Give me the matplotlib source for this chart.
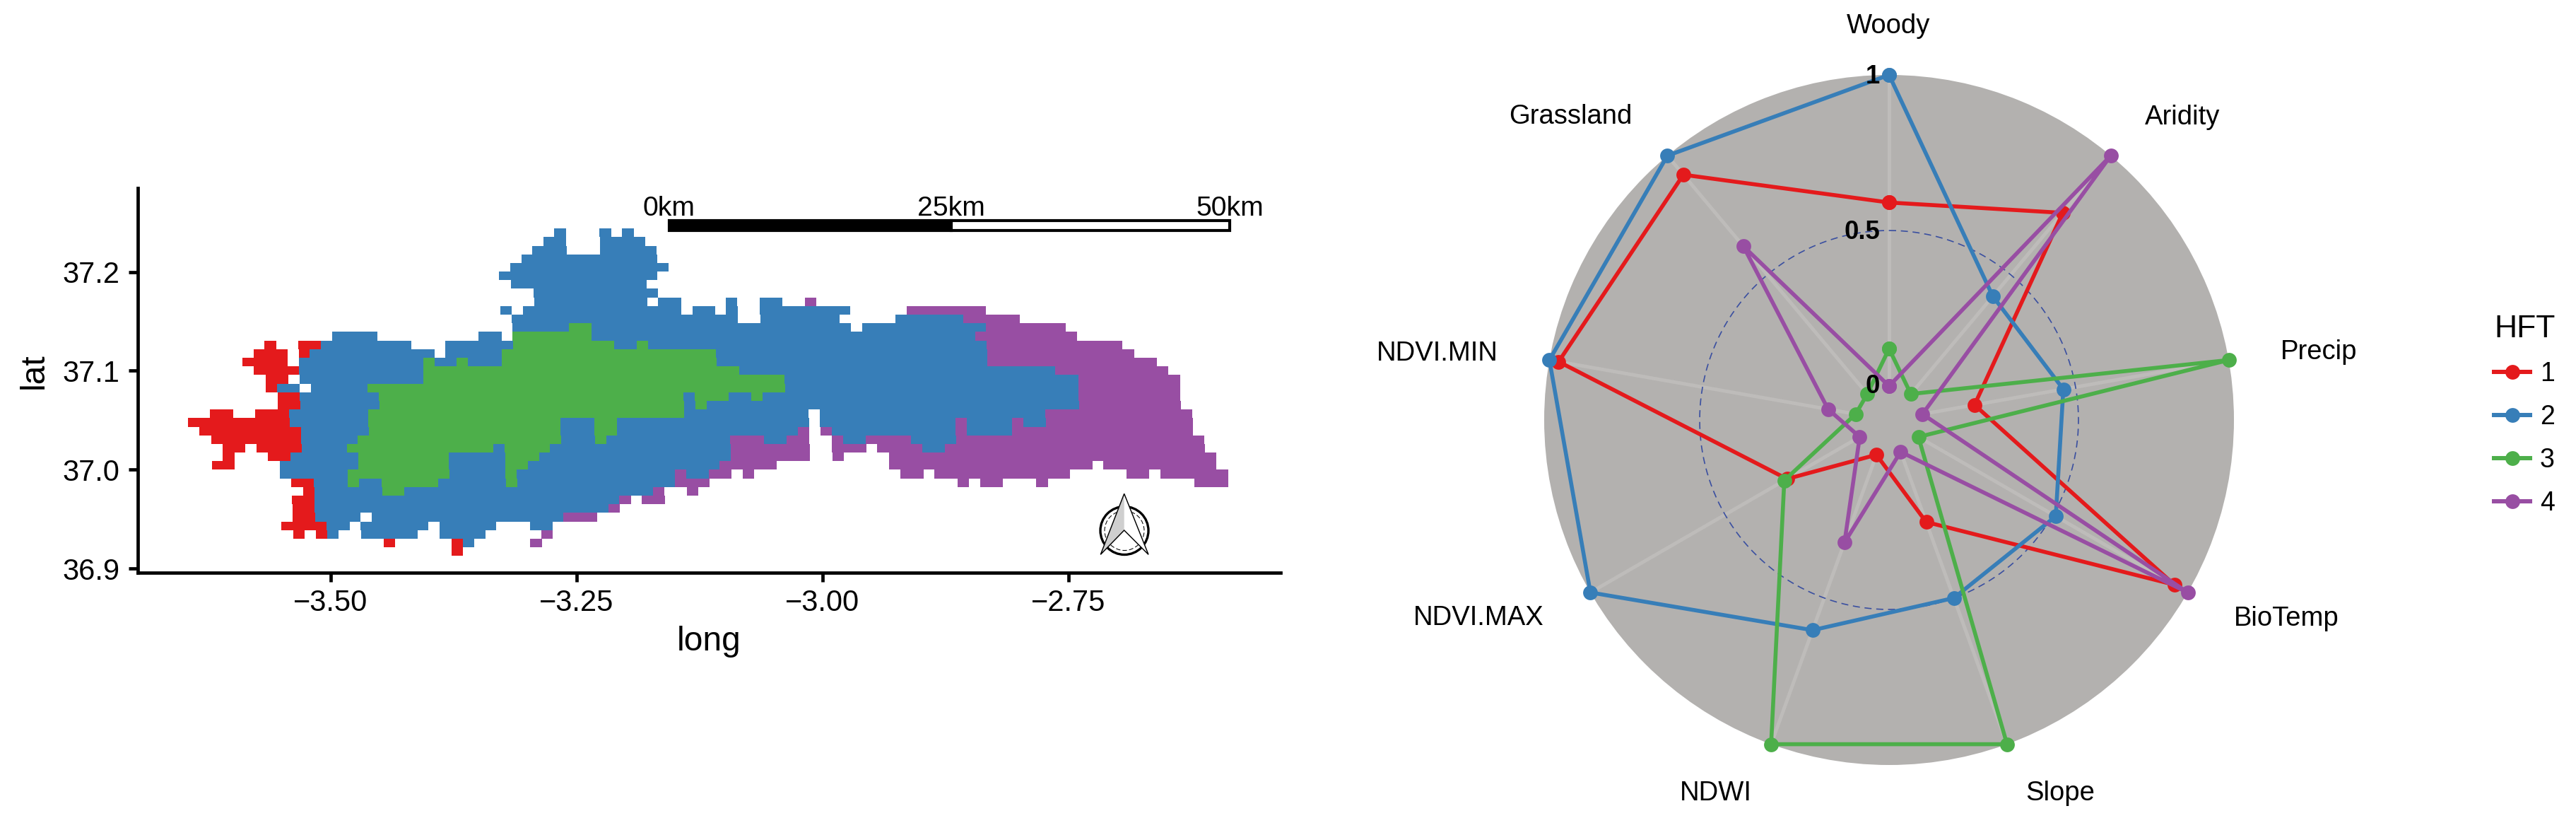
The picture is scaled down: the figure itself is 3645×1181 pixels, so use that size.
import numpy as np
import matplotlib
matplotlib.use('Agg')
import matplotlib.pyplot as plt
from matplotlib.colors import ListedColormap
from matplotlib.lines import Line2D
from matplotlib.patches import Rectangle, Polygon, Circle, Arc

plt.rcParams['font.family'] = ['Liberation Sans', 'DejaVu Sans']

W, H = 3645, 1181

# map raster: row -> (first column, end column) runs for each HFT class
hft1_cells = {
    13: [(7, 8), (10, 12)], 14: [(6, 9), (10, 11)], 15: [(5, 9)], 16: [(6, 10)], 17: [(7, 9)],
    18: [(7, 8)], 19: [(8, 10)], 20: [(8, 10)], 21: [(2, 4), (6, 9)], 22: [(0, 9)], 23: [(1, 10)],
    24: [(2, 10)], 25: [(3, 5), (6, 10)], 26: [(3, 4), (7, 9)], 27: [(2, 4)], 29: [(9, 11)],
    30: [(10, 11)], 31: [(9, 11)], 32: [(9, 11)], 33: [(9, 11)], 34: [(8, 12)],
    35: [(9, 10), (11, 12)], 36: [(17, 18), (23, 24)], 37: [(23, 24)],
}
hft2_cells = {
    0: [(33, 34), (37, 38), (39, 40)], 1: [(32, 34), (37, 41)], 2: [(31, 34), (37, 42)],
    3: [(30, 42)], 4: [(29, 43)], 5: [(28, 42)], 6: [(29, 41)], 7: [(31, 42)],
    8: [(31, 41), (42, 44), (48, 49), (51, 53)],
    9: [(28, 29), (30, 44), (45, 47), (48, 49), (51, 59)],
    10: [(29, 49), (51, 58), (63, 69)], 11: [(29, 34), (36, 59), (60, 71)],
    12: [(13, 17), (26, 28), (36, 70)], 13: [(12, 20), (23, 29), (38, 40), (41, 71)],
    14: [(11, 22), (23, 28), (47, 71)], 15: [(10, 21), (22, 24), (25, 28), (47, 71)],
    16: [(10, 21), (49, 77)], 17: [(10, 21), (53, 79)], 18: [(8, 10), (11, 16), (53, 79)],
    19: [(10, 17), (44, 45), (48, 50), (51, 79)], 20: [(10, 17), (44, 45), (46, 79)],
    21: [(9, 16), (44, 55), (56, 76)],
    22: [(9, 16), (33, 36), (38, 55), (56, 68), (69, 73), (74, 76)],
    23: [(10, 16), (33, 36), (38, 54), (57, 68), (69, 73)],
    24: [(10, 15), (33, 36), (37, 48), (51, 53), (58, 60), (64, 68)],
    25: [(10, 14), (27, 28), (32, 48), (65, 67)], 26: [(9, 15), (23, 28), (31, 48)],
    27: [(8, 15), (23, 28), (30, 47)], 28: [(8, 14), (23, 28), (29, 43), (44, 46)],
    29: [(11, 14), (15, 17), (22, 28), (29, 43)], 30: [(11, 17), (19, 41)], 31: [(11, 38)],
    32: [(11, 37)], 33: [(11, 15), (16, 33)], 34: [(12, 14), (15, 21), (22, 27), (30, 32)],
    35: [(12, 13), (15, 20), (22, 26)], 36: [(24, 25)],
}
hft3_cells = {
    11: [(34, 36)], 12: [(29, 36)], 13: [(29, 38), (40, 41)], 14: [(28, 47)],
    15: [(21, 22), (24, 25), (28, 47)], 16: [(21, 49)], 17: [(21, 53)], 18: [(16, 53)],
    19: [(17, 44), (45, 48), (50, 51)], 20: [(17, 44), (45, 46)], 21: [(16, 44)],
    22: [(16, 33), (36, 38)], 23: [(16, 33), (36, 38)], 24: [(15, 33), (36, 37)],
    25: [(14, 27), (28, 32)], 26: [(15, 23), (28, 31)], 27: [(15, 23), (28, 30)],
    28: [(14, 23), (28, 29)], 29: [(14, 15), (17, 22), (28, 29)], 30: [(17, 19)],
}
hft4_cells = {
    8: [(55, 56)], 9: [(64, 71)], 10: [(69, 74)], 11: [(71, 78)], 12: [(70, 79)], 13: [(71, 83)],
    14: [(71, 84)], 15: [(71, 86)], 16: [(77, 87)], 17: [(79, 88)], 18: [(79, 88)], 19: [(79, 88)],
    20: [(79, 88)], 21: [(76, 89)], 22: [(68, 69), (73, 74), (76, 89)],
    23: [(54, 55), (56, 57), (68, 69), (73, 89)],
    24: [(48, 51), (53, 55), (57, 58), (60, 64), (68, 90)],
    25: [(48, 55), (57, 60), (61, 65), (67, 90)], 26: [(48, 55), (57, 58), (62, 91)],
    27: [(47, 52), (62, 80), (81, 91)],
    28: [(43, 44), (46, 48), (49, 50), (63, 65), (66, 78), (83, 85), (86, 92)],
    29: [(43, 46), (68, 69), (70, 72), (75, 76), (89, 92)], 30: [(41, 42), (44, 45)],
    31: [(38, 39), (40, 42)], 32: [(37, 38)], 33: [(33, 36)], 35: [(31, 32)], 36: [(30, 31)],
}

# raster georeference
lon0, dlon = -3.6438, 0.011476
lat_top, dlat = 37.244, 0.00872
shear0, shear_step = -0.65, 0.0243

xticks = [-3.50, -3.25, -3.00, -2.75]
xtick_labels = ['\u22123.50', '\u22123.25', '\u22123.00', '\u22122.75']
yticks = [36.9, 37.0, 37.1, 37.2]
ytick_labels = ['36.9', '37.0', '37.1', '37.2']

scale_lons = [-3.1559, -2.8691, -2.5859]
scale_labels = ['0km', '25km', '50km']

# radar chart
variables = ['Woody', 'Aridity', 'Precip', 'BioTemp', 'Slope', 'NDWI', 'NDVI.MAX', 'NDVI.MIN', 'Grassland']
hft1_values = [0.59, 0.76, 0.17, 0.95, 0.24, 0.01, 0.27, 0.97, 0.92]
hft2_values = [1.00, 0.41, 0.46, 0.51, 0.50, 0.61, 1.00, 1.00, 1.00]
hft3_values = [0.12, 0.00, 1.00, 0.00, 1.00, 1.00, 0.28, 0.00, 0.00]
hft4_values = [0.00, 1.00, 0.00, 1.00, 0.00, 0.31, 0.00, 0.09, 0.62]

hft_names = ['1', '2', '3', '4']
hft_colors = ['#E41A1C', '#377EB8', '#4DAF4A', '#984EA3']
hft_values = [hft1_values, hft2_values, hft3_values, hft4_values]
hft_cells = [hft1_cells, hft2_cells, hft3_cells, hft4_cells]

# where the radar text sits in the picture, pixels from the top left
label_xy = [(2672, 37), (3088, 166), (3281, 498), (3235, 875), (2915, 1122),
            (2428, 1122), (2092, 874), (2034, 500), (2222, 165)]


def rect_px(left, top, right, bottom):
    return [left / W, (H - bottom) / H, (right - left) / W, (bottom - top) / H]


def fx(x):
    return x / W


def fy(y):
    return (H - y) / H


fig = plt.figure(figsize=(W / 300, H / 300), dpi=300)

# --- map ---
ax = fig.add_axes(rect_px(194.7, 266, 1811.7, 810.3))
ax.set_xlim(-3.6963, -2.5343)
ax.set_ylim(36.8955, 37.2849)

grid = np.zeros((38, 92))
for k, cells in enumerate(hft_cells):
    for row, runs in cells.items():
        for a, b in runs:
            grid[row, a:b] = k + 1

rows = np.arange(39)
cols = np.arange(93)
X = lon0 + dlon * (cols[None, :] + (shear0 + shear_step * rows[:, None]))
Y = lat_top - dlat * rows[:, None] * np.ones((1, 93))
ax.pcolormesh(X, Y, np.ma.masked_equal(grid, 0), cmap=ListedColormap(hft_colors), vmin=1, vmax=4,
              antialiased=False, linewidth=0)

for side in ['top', 'right']:
    ax.spines[side].set_visible(False)
for side in ['left', 'bottom']:
    ax.spines[side].set_linewidth(1.13)
ax.set_xticks(xticks)
ax.set_xticklabels(xtick_labels)
ax.set_yticks(yticks)
ax.set_yticklabels(ytick_labels)
ax.tick_params(axis='both', length=3.1, width=1.13, labelsize=10)
ax.tick_params(axis='x', pad=2.4)
ax.tick_params(axis='y', pad=2.9)
ax.set_xlabel('long', fontsize=11.5, va='center')
ax.set_ylabel('lat', fontsize=11.5, va='center')
ax.xaxis.set_label_coords(0.4999, -0.178)
ax.yaxis.set_label_coords(-0.0905, 0.524)

# scale bar
bar_y, bar_h = 37.2422, 0.0098
ax.add_patch(Rectangle((scale_lons[0], bar_y), scale_lons[1] - scale_lons[0], bar_h, fc='black', ec='black', lw=1.0))
ax.add_patch(Rectangle((scale_lons[1], bar_y), scale_lons[2] - scale_lons[1], bar_h, fc='white', ec='black', lw=1.0))
for lon, lab in zip(scale_lons, scale_labels):
    ax.text(lon, 37.257, lab, fontsize=9.4, ha='center', va='baseline')

# overlay in pixels for the north arrow
over = fig.add_axes([0, 0, 1, 1], facecolor='none')
over.set_xlim(0, W)
over.set_ylim(H, 0)
over.axis('off')
over.add_patch(Circle((1591, 750.5), 34, fc='none', ec='black', lw=0.8))
over.add_patch(Circle((1591, 750.5), 28, fc='none', ec='black', lw=0.25, ls=(0, (6, 3))))
over.add_patch(Polygon([(1590.7, 698.3), (1557.3, 784.3), (1590.7, 750), (1625, 784.3)],
                       closed=True, fc='white', ec='none'))
over.add_patch(Polygon([(1590.7, 698.3), (1557.3, 784.3), (1590.7, 750)], closed=True, fc='#cfcfcf', ec='none'))
over.add_patch(Polygon([(1590.7, 698.3), (1557.3, 784.3), (1590.7, 750), (1625, 784.3)],
                       closed=True, fc='none', ec='black', lw=0.35))

# --- radar ---
cx, cy, rad = 2673, 594, 488
rax = fig.add_axes(rect_px(cx - rad, cy - rad, cx + rad, cy + rad), projection='polar')
rax.set_theta_zero_location('N')
rax.set_theta_direction(-1)
rax.set_ylim(-0.109, 1)
rax.set_facecolor('#B3B1AF')
rax.spines['polar'].set_visible(False)
rax.grid(False)
rax.set_xticks([])
rax.set_yticks([])

theta = np.deg2rad(np.arange(len(variables)) * 40.0)
for t in theta:
    rax.plot([t, t], [0, 1], color='#BEBCBA', lw=1.2, solid_capstyle='butt')
ring = np.linspace(0, 2 * np.pi, 361)
rax.plot(ring, np.full_like(ring, 0.5), color='#3A4FA0', lw=0.4, ls=(0, (6, 4)))

handles = []
for name, color, values in zip(hft_names, hft_colors, hft_values):
    t = np.append(theta, theta[0])
    v = np.append(values, values[0])
    line, = rax.plot(t, v, color=color, lw=1.35, marker='o', ms=5, mew=0, clip_on=False, label=name)
    handles.append(Line2D([], [], color=color, lw=1.45, marker='o', ms=5, mew=0))

for name, (x, y) in zip(variables, label_xy):
    fig.text(fx(x), fy(y), name, fontsize=9.2, ha='center', va='center')
fig.text(fx(2660), fy(108), '1', fontsize=8.8, fontweight='bold', ha='right', va='center')
fig.text(fx(2660), fy(328), '0.5', fontsize=8.8, fontweight='bold', ha='right', va='center')
fig.text(fx(2660), fy(546), '0', fontsize=8.8, fontweight='bold', ha='right', va='center')

leg = fig.legend(handles, hft_names, title='HFT', frameon=False, fontsize=9, title_fontsize=10.7,
                 loc='upper left', bbox_to_anchor=(fx(3529), fy(445)), bbox_transform=fig.transFigure,
                 borderaxespad=0, borderpad=0, labelspacing=0.67, handlelength=1.36, handletextpad=0.37)
leg._legend_box.align = 'left'

fig.savefig('out.png', dpi=300)
